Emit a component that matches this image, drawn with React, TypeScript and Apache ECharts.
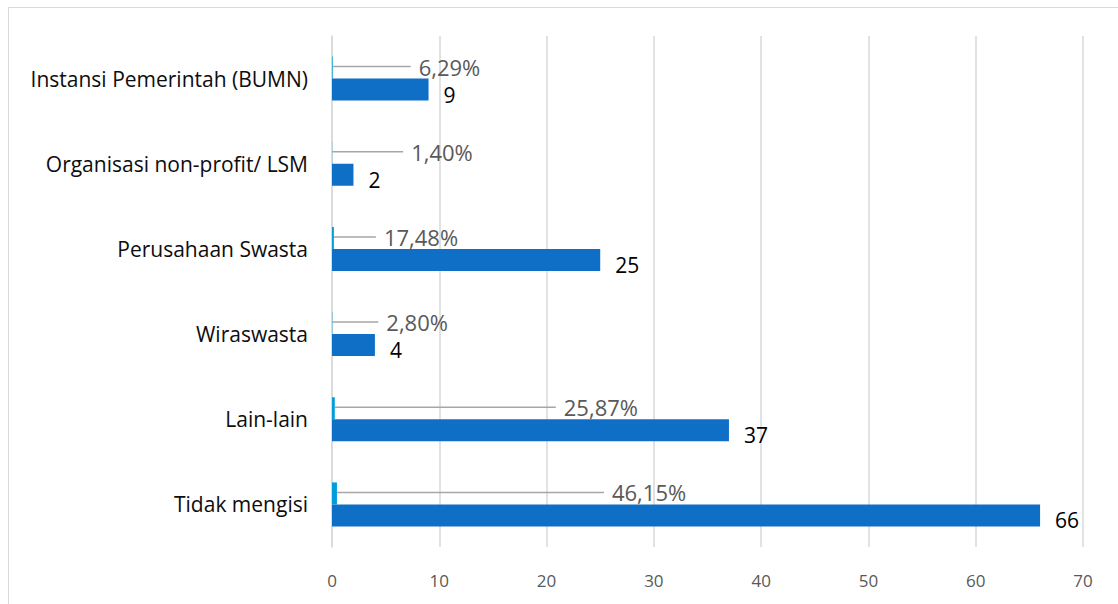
import React, { useEffect, useRef } from "react";
import * as echarts from "echarts";

const categories = [
  "Instansi Pemerintah (BUMN)",
  "Organisasi non-profit/ LSM",
  "Perusahaan Swasta",
  "Wiraswasta",
  "Lain-lain",
  "Tidak mengisi",
];
const counts = [9, 2, 25, 4, 37, 66];
const shares = [0.0629, 0.014, 0.1748, 0.028, 0.2587, 0.4615];
const xTicks = { min: 0, max: 70, interval: 10 };
// styling: horizontal offsets of the percentage callouts (px)
const shareLabelDx = [73, 66, 37, 41, 216, 262];

const FONT = "'Open Sans', 'Noto Sans', sans-serif";

export default function App() {
  const ref = useRef<HTMLDivElement>(null);
  useEffect(() => {
    if (!ref.current) return;
    const chart = echarts.init(ref.current, null, { renderer: "svg" });
    chart.setOption({
      animation: false,
      textStyle: { fontFamily: FONT },
      grid: { left: 332, right: 35, top: 36, bottom: 57, containLabel: false },
      xAxis: {
        type: "value",
        min: xTicks.min,
        max: xTicks.max,
        interval: xTicks.interval,
        axisLine: { show: false },
        axisTick: { show: false },
        splitLine: { lineStyle: { color: "#d9d9d9", width: 1.5 } },
        axisLabel: { color: "#595959", fontSize: 17, margin: 25, fontFamily: FONT },
      },
      yAxis: {
        type: "category",
        inverse: true,
        data: categories,
        axisLine: { show: true, lineStyle: { color: "#d9d9d9", width: 1.5 } },
        axisTick: { show: false },
        axisLabel: { color: "#0d0d0d", fontSize: 21, margin: 24, fontFamily: FONT },
      },
      series: [
        {
          name: "Persentase",
          type: "bar",
          data: shares,
          barWidth: 22,
          barGap: "0%",
          barCategoryGap: "48%",
          itemStyle: { color: "#009DD9" },
          label: {
            show: true,
            position: "right",
            distance: 5,
            color: "#595959",
            fontSize: 22,
            fontFamily: FONT,
            formatter: (p: any) =>
              "{g| }{v|" + (p.value * 100).toFixed(2).replace(".", ",") + "%}",
            rich: {
              g: { width: 8, fontSize: 22, fontFamily: FONT },
              v: { color: "#595959", fontSize: 22, fontFamily: FONT },
            },
          },
          labelLine: { show: true, lineStyle: { color: "#a6a6a6", width: 1.5 } },
          labelLayout: (p: any) => ({ dx: shareLabelDx[p.dataIndex], dy: -1 }),
        },
        {
          name: "Jumlah",
          type: "bar",
          data: counts,
          barWidth: 22,
          barGap: "0%",
          itemStyle: { color: "#0F6FC6" },
          label: {
            show: true,
            position: "right",
            distance: 15,
            offset: [0, 5],
            color: "#000000",
            fontSize: 21,
            fontFamily: FONT,
          },
        },
      ],
    });
    return () => chart.dispose();
  }, []);

  return (
    <div
      style={{
        position: "fixed",
        left: 0,
        top: 0,
        width: 1118,
        height: 604,
        overflow: "hidden",
        background: "#fff",
      }}
    >
      <div
        style={{
          position: "absolute",
          left: 8,
          top: 7,
          width: 1300,
          height: 800,
          border: "1px solid #d9d9d9",
        }}
      />
      <div ref={ref} style={{ position: "absolute", left: 0, top: 0, width: 1118, height: 604 }} />
    </div>
  );
}
